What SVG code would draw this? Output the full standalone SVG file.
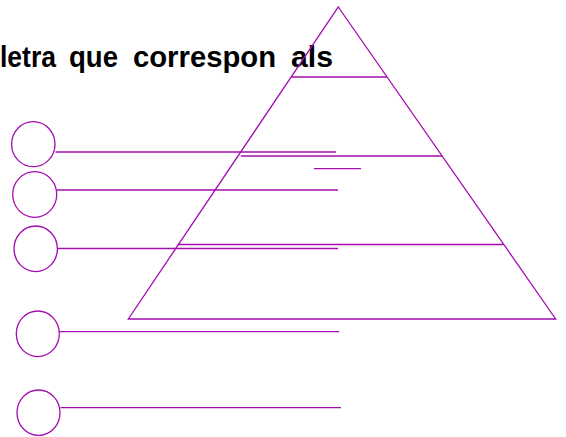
<svg xmlns="http://www.w3.org/2000/svg" width="566" height="437" viewBox="0 0 566 437">
<style>
.s{fill:none;stroke:#a30cb0;stroke-width:1.3}
.t{font-family:"Liberation Sans",Arial,sans-serif;font-weight:bold;font-size:30px;fill:#000}
</style>
<rect width="566" height="437" fill="#fff"/>
<g id="title">
<text class="t" y="67"><tspan x="0" textLength="56" lengthAdjust="spacingAndGlyphs">letra</tspan><tspan x="69" textLength="49" lengthAdjust="spacingAndGlyphs">que</tspan><tspan x="133" textLength="143" lengthAdjust="spacingAndGlyphs">correspon</tspan><tspan x="291" textLength="42" lengthAdjust="spacingAndGlyphs">als</tspan></text>
</g>
<g id="pyramid">
<polygon class="s" points="338.3,7 555.7,319 128.3,319"/>
<line class="s" x1="291.4" y1="77" x2="386.9" y2="77"/>
<line class="s" x1="240.7" y1="156" x2="442" y2="156"/>
<line class="s" x1="314" y1="168.7" x2="361" y2="168.7"/>
<line class="s" x1="177.8" y1="244.5" x2="503.5" y2="244.5"/>
</g>
<g id="circle1"><ellipse class="s" cx="33.3" cy="144.2" rx="21.7" ry="22.5"/></g>
<g id="circle2"><ellipse class="s" cx="34.7" cy="194.5" rx="22" ry="22.8"/></g>
<g id="circle3"><ellipse class="s" cx="35.7" cy="248.8" rx="21.7" ry="22.8"/></g>
<g id="circle4"><ellipse class="s" cx="37.8" cy="333.8" rx="21.5" ry="22.8"/></g>
<g id="circle5"><ellipse class="s" cx="38.5" cy="412.7" rx="21.5" ry="22.7"/></g>
<g id="connectors">
<line class="s" x1="55.5" y1="152" x2="336" y2="152"/>
<line class="s" x1="57" y1="190" x2="338" y2="190"/>
<line class="s" x1="57.5" y1="248.5" x2="338" y2="248.5"/>
<line class="s" x1="59.3" y1="331.7" x2="339" y2="331.7"/>
<line class="s" x1="60.5" y1="407.7" x2="341" y2="407.7"/>
</g>
</svg>
